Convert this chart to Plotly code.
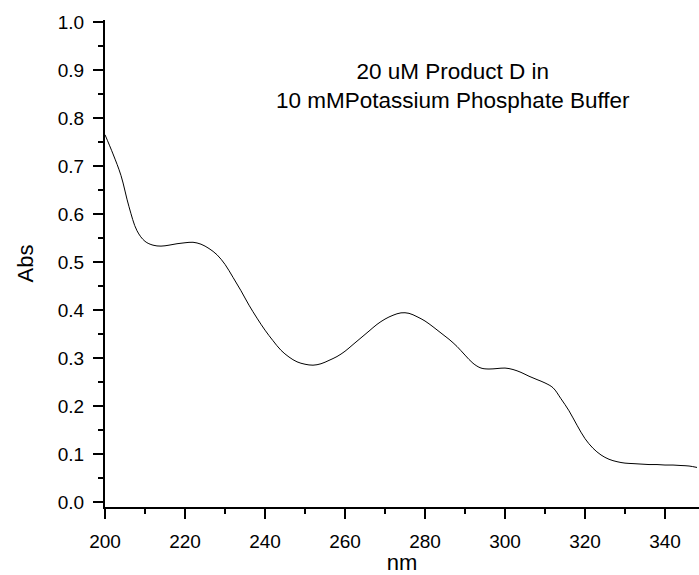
import plotly.graph_objects as go

wavelength_nm = [200, 202, 204, 206, 208, 210, 212, 214, 216, 218, 220, 222, 224, 226, 228,
                 230, 232, 234, 236, 238, 240, 242, 244, 246, 248, 250, 252, 254, 256, 258,
                 260, 262, 264, 266, 268, 270, 272, 274, 276, 278, 280, 282, 284, 286, 288,
                 290, 292, 294, 296, 298, 300, 302, 304, 306, 308, 310, 312, 314, 316, 318,
                 320, 322, 324, 326, 328, 330, 332, 334, 336, 338, 340, 342, 344, 346, 348]
absorbance = [0.765, 0.725, 0.680, 0.615, 0.565, 0.543, 0.535, 0.533, 0.535, 0.538, 0.540, 0.541, 0.537, 0.528, 0.515,
              0.495, 0.468, 0.440, 0.410, 0.383, 0.358, 0.336, 0.316, 0.302, 0.292, 0.287, 0.285, 0.288, 0.295, 0.303,
              0.314, 0.328, 0.342, 0.356, 0.370, 0.381, 0.389, 0.394, 0.393, 0.386, 0.377, 0.365, 0.352, 0.339, 0.324,
              0.306, 0.289, 0.279, 0.277, 0.278, 0.279, 0.276, 0.270, 0.262, 0.255, 0.248, 0.238, 0.215, 0.190, 0.160,
              0.132, 0.112, 0.098, 0.089, 0.084, 0.081, 0.080, 0.079, 0.078, 0.078, 0.077, 0.077, 0.076, 0.075, 0.072]

x_ticks = [200, 220, 240, 260, 280, 300, 320, 340]
y_ticks = [0.0, 0.1, 0.2, 0.3, 0.4, 0.5, 0.6, 0.7, 0.8, 0.9, 1.0]
y_tick_labels = ["0.0", "0.1", "0.2", "0.3", "0.4", "0.5", "0.6", "0.7", "0.8", "0.9", "1.0"]
annotation_lines = ["20 uM Product D in", "10 mMPotassium Phosphate Buffer"]

FONT = "Liberation Sans, Arial, sans-serif"

fig = go.Figure()
fig.add_trace(go.Scatter(x=wavelength_nm, y=absorbance, mode="lines",
                         line=dict(color="black", width=1, shape="spline"),
                         showlegend=False, hoverinfo="x+y"))

fig.add_annotation(x=287, y=0.867, xref="x", yref="y",
                   text="<br>".join(annotation_lines), showarrow=False,
                   align="center", xanchor="center", yanchor="middle",
                   font=dict(family=FONT, size=22.5, color="black"))

axis_common = dict(showline=True, linecolor="black", linewidth=2, ticks="outside",
                   ticklen=10, tickwidth=2, tickcolor="black", showgrid=False,
                   zeroline=False, mirror=False, automargin=False,
                   tickfont=dict(family=FONT, size=19, color="black"))

fig.update_xaxes(range=[200, 348.5], tickvals=x_ticks, ticktext=[str(v) for v in x_ticks],
                 ticklabelstandoff=6,
                 minor=dict(ticks="outside", dtick=10, tick0=200, ticklen=5, tickwidth=2, tickcolor="black"),
                 title=dict(text="nm", font=dict(family=FONT, size=22, color="black"), standoff=16),
                 **axis_common)
fig.update_yaxes(range=[-0.0104, 1.004], tickvals=y_ticks, ticktext=y_tick_labels,
                 ticklabelstandoff=5,
                 minor=dict(ticks="outside", dtick=0.05, tick0=0, ticklen=5, tickwidth=2, tickcolor="black"),
                 title=dict(text="Abs", font=dict(family=FONT, size=22, color="black"), standoff=18),
                 **axis_common)

fig.update_layout(width=699, height=575, margin=dict(l=105, r=0, t=20, b=68, autoexpand=False),
                  plot_bgcolor="white", paper_bgcolor="white",
                  font=dict(family=FONT, color="black"))

fig.write_html("out.html", config={"displayModeBar": False},
               post_script="document.body.style.margin='0';document.body.style.overflow='hidden';")
